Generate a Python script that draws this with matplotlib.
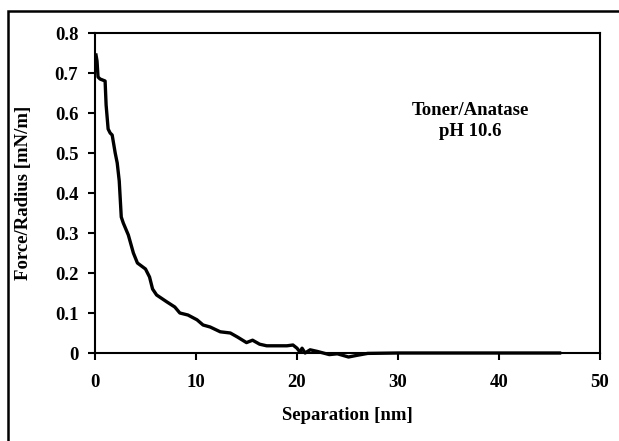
import matplotlib
matplotlib.use("Agg")
import matplotlib.pyplot as plt
from matplotlib.patches import Rectangle

separation_nm = [0.1, 0.2, 0.3, 0.5, 1.0, 1.1, 1.3, 1.5, 1.7, 2.0, 2.2, 2.4, 2.6, 2.8, 3.3, 3.8,
                 4.2, 5.0, 5.4, 5.7, 6.1, 7.1, 7.9, 8.4, 9.2, 10.1, 10.7, 11.4, 12.4, 13.4,
                 14.1, 15.0, 15.6, 16.3, 17.0, 19.0, 19.6, 20.0, 20.3, 20.5, 20.8, 21.3, 22.0,
                 23.2, 24.0, 25.1, 25.9, 27.0, 30.0, 35.0, 40.0, 46.0]
force_radius = [0.745, 0.73, 0.69, 0.685, 0.68, 0.62, 0.56, 0.55, 0.545, 0.50, 0.475, 0.43, 0.34,
                0.325, 0.295, 0.25, 0.225, 0.21, 0.19, 0.16, 0.145, 0.128, 0.115, 0.10,
                0.095, 0.083, 0.07, 0.065, 0.053, 0.05, 0.04, 0.026, 0.032, 0.022, 0.018,
                0.018, 0.02, 0.012, 0.002, 0.012, 0.0, 0.008, 0.004, -0.004, -0.002, -0.01,
                -0.006, -0.001, 0.0, 0.0, 0.0, 0.0]

x_ticks = [0, 10, 20, 30, 40, 50]
y_ticks = [0, 0.1, 0.2, 0.3, 0.4, 0.5, 0.6, 0.7, 0.8]
y_tick_labels = ["0", "0.1", "0.2", "0.3", "0.4", "0.5", "0.6", "0.7", "0.8"]

plt.rcParams['font.family'] = ['Liberation Serif', 'DejaVu Serif']
plt.rcParams['font.weight'] = 'bold'

fig = plt.figure(figsize=(6.19, 4.41), dpi=100)
fig.patches.append(Rectangle((7.5/619, -0.1), 1.2, 1.1 - 11/441, transform=fig.transFigure,
                             fill=False, edgecolor='black', linewidth=1.8))
ax = fig.add_axes([95/619, 1 - 353/441, 505/619, 320/441])
ax.plot(separation_nm, force_radius, color='black', linewidth=2.4, solid_joinstyle='round',
        clip_on=False, zorder=3)
ax.set_xlim(0, 50)
ax.set_ylim(0, 0.8)
ax.set_xticks(x_ticks)
ax.set_yticks(y_ticks)
ax.set_yticklabels(y_tick_labels)
ax.tick_params(direction='out', length=5, width=1.5, labelsize=13.5, pad=7)
ax.tick_params(axis='x', pad=10)
for lab in ax.get_xticklabels() + ax.get_yticklabels():
    lab.set_fontweight('bold')
for s in ax.spines.values():
    s.set_linewidth(1.5)
ax.set_xlabel("Separation [nm]", fontsize=13.5, fontweight='bold', labelpad=12)
ax.set_ylabel("Force/Radius [mN/m]", fontsize=13.5, fontweight='bold', labelpad=16)
ax.text(37.2, 0.58, "Toner/Anatase\npH 10.6", ha='center', va='center', fontsize=13.5,
        fontweight='bold', linespacing=1.3)
fig.savefig("out.png", dpi=100)
